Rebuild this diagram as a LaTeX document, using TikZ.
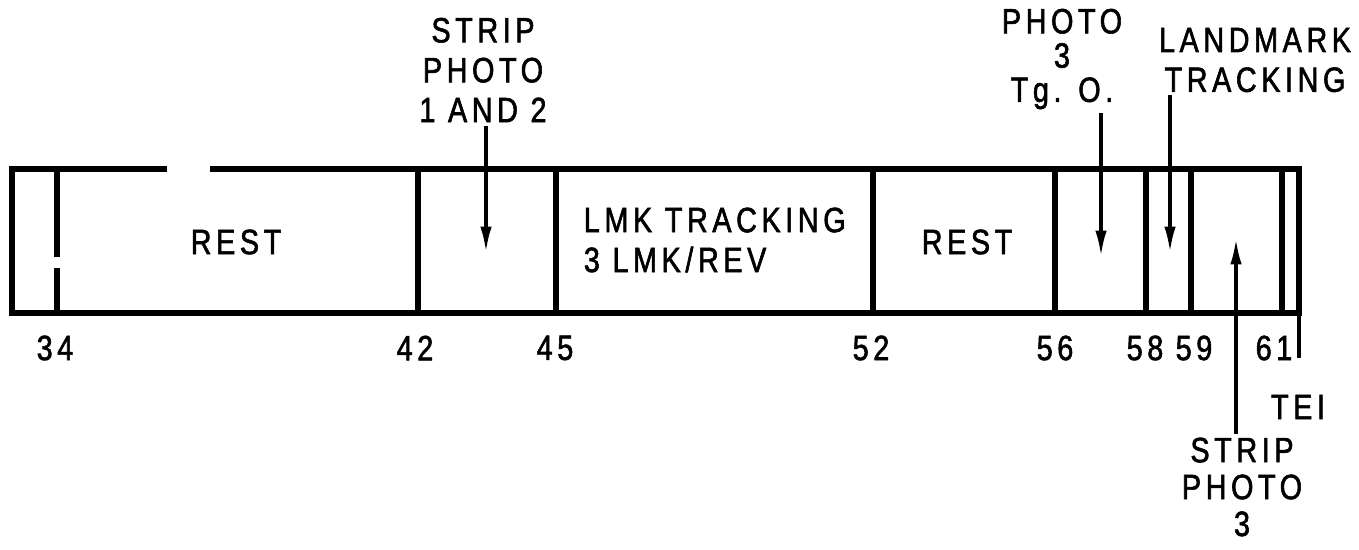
\documentclass[tikz,border=0pt]{standalone}
\usepackage{fontspec}
\setmainfont{Liberation Sans}[FakeStretch=0.82,LetterSpace=13,FakeBold=1.6]
\usetikzlibrary{arrows.meta}

\begin{document}
\begin{tikzpicture}[x=0.02cm,y=0.02cm,>={Latex[length=15pt,width=6.5pt]},
  lbl/.style={inner sep=2pt,align=center,font=\fontsize{20}{22.7}\selectfont},
  bar/.style={line width=3.3pt},
  pointer/.style={line width=2pt,->}]
\useasboundingbox (0,0) rectangle (1359,549);
% frame, with the gap of the original at the top
\draw[bar] (167,380) -- (12,380) -- (12,236) -- (1299,236) -- (1299,380) -- (210,380);
\draw[bar] (57,380) -- (57,292);
\draw[bar] (57,281) -- (57,236);
\foreach \x in {418,556,873,1055,1146,1191,1282}
  \draw[bar] (\x,380) -- (\x,236);
% times below the bar
\foreach \x/\t in {55/34,415/42,555/45,871/52,1055/56,1145/58,1194/59,1274/61}
  \node[lbl] (t\t) at (\x,201) {\t};
\coordinate (teiend) at (1299,191);
\draw[line width=2pt] (1299,236) -- (teiend);
\node[lbl] (tei) at (1298,142) {TEI};
% texts inside the bar
\node[lbl,align=left,anchor=west] (lmk) at (580,309) {LMK TRACKING\\3 LMK/REV};
\node[lbl] (rest1) at (236,307) {REST};
\node[lbl] (rest2) at (967,307) {REST};
% arrows into the bar
\node[lbl] (strip12) at (483,479) {STRIP\\PHOTO\\1 AND 2};
\coordinate (s12tip) at (486,296);
\draw[pointer] (s12tip |- strip12.south) -- (s12tip);
\node[lbl,font=\fontsize{20}{19.5}\selectfont] (photo3) at (1062,490) {PHOTO\\3\\Tg. O.};
\coordinate (p3tip) at (1101,292);
\draw[pointer] (p3tip |- photo3.south) -- (p3tip);
\node[lbl] (lmktrk) at (1255,489) {LANDMARK\\TRACKING};
\coordinate (lttip) at (1170,296);
\draw[pointer] (1170,454) -- (lttip);
\node[lbl,font=\fontsize{20}{21}\selectfont] (strip3) at (1242,62) {STRIP\\PHOTO\\3};
\coordinate (s3tip) at (1236,311);
\draw[pointer] (s3tip |- strip3.north) -- (s3tip);
\end{tikzpicture}
\end{document}
